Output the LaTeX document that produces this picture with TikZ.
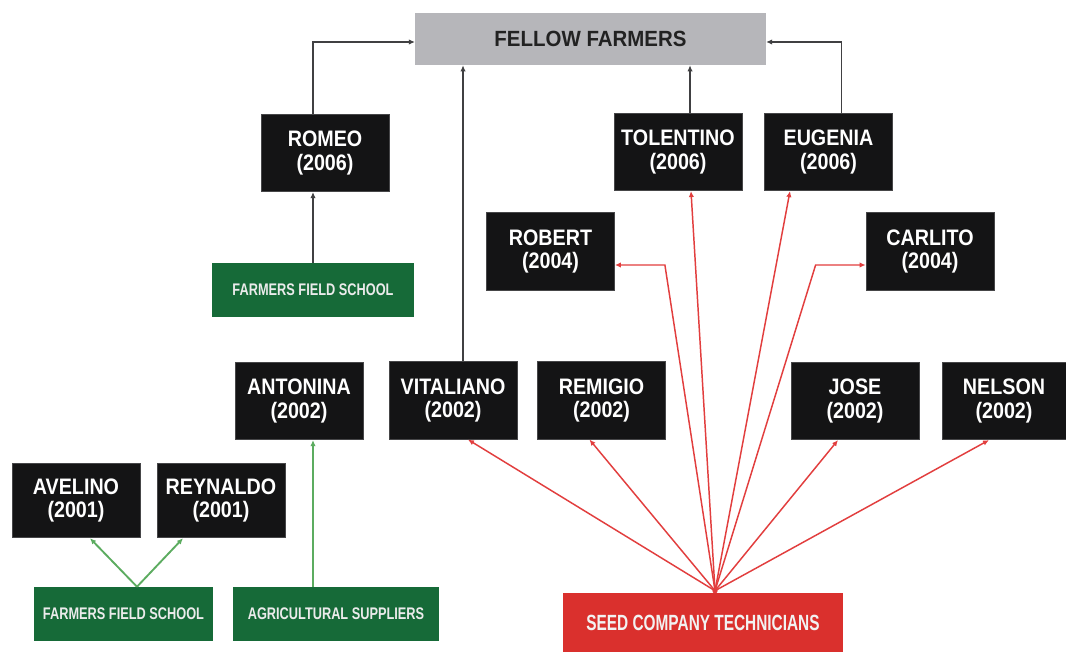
\documentclass[tikz,border=0pt]{standalone}
\usepackage{fontspec}
\usetikzlibrary{arrows.meta,calc}
\newfontfamily\namefont{Liberation Sans}[FakeStretch=0.88]
\newfontfamily\headfont{Liberation Sans}[FakeStretch=0.93]
\newfontfamily\srcfont{Liberation Sans}[FakeStretch=0.76]
\newfontfamily\seedfont{Liberation Sans}[FakeStretch=0.70]
\definecolor{boxblack}{RGB}{20,20,21}
\definecolor{boxedge}{RGB}{70,70,72}
\definecolor{headgrey}{RGB}{182,182,186}
\definecolor{headtext}{RGB}{34,34,34}
\definecolor{srcgreen}{RGB}{22,106,56}
\definecolor{srcred}{RGB}{218,48,45}
\definecolor{redline}{RGB}{226,62,62}
\definecolor{greenline}{RGB}{92,172,96}
\definecolor{darkline}{RGB}{64,64,66}
\begin{document}
\begin{tikzpicture}[x=0.75pt,y=-0.75pt,
  person/.style={fill=boxblack, draw=boxedge, line width=0.6pt, text=white,
    align=center, inner sep=0pt, minimum width=96pt, minimum height=58pt,
    font={\namefont\bfseries\fontsize{16.8}{17.5}\selectfont}},
  headbox/.style={fill=headgrey, draw=none, text=headtext, inner sep=0pt,
    minimum width=263pt, minimum height=39pt,
    font={\headfont\bfseries\fontsize{16.5}{18}\selectfont}},
  greenbox/.style={fill=srcgreen, draw=none, text=white!92!black, inner sep=0pt,
    minimum height=40.5pt, font={\srcfont\bfseries\fontsize{12.6}{14}\selectfont}},
  redbox/.style={fill=srcred, draw=none, text=white!95!black, inner sep=0pt,
    minimum width=210pt, minimum height=45pt,
    font={\seedfont\bfseries\fontsize{16.5}{18}\selectfont}},
  tip/.style={-{Latex[length=4.5pt,width=4pt]}},
  blkarrow/.style={tip, draw=darkline, line width=1.3pt},
  grnarrow/.style={tip, draw=greenline, line width=1.4pt},
  redarrow/.style={tip, draw=redline, line width=1.1pt}]
\fill[white] (0,0) rectangle (1066,652);
\useasboundingbox (0,0) rectangle (1066,652);

% top target
\node[headbox] (fellow) at (590.5,39) {FELLOW FARMERS};

% farmers
\node[person] (romeo)     at (325,153)   {ROMEO\\(2006)};
\node[person] (tolentino) at (678,152)   {TOLENTINO\\(2006)};
\node[person] (eugenia)   at (828.5,152) {EUGENIA\\(2006)};
\node[person] (robert)    at (550.5,251.5) {ROBERT\\(2004)};
\node[person] (carlito)   at (930,251.5) {CARLITO\\(2004)};
\node[person] (antonina)  at (299,401)   {ANTONINA\\(2002)};
\node[person] (vitaliano) at (453,400.5) {VITALIANO\\(2002)};
\node[person] (remigio)   at (601.5,400.5) {REMIGIO\\(2002)};
\node[person] (jose)      at (855,401)   {JOSE\\(2002)};
\node[person, minimum width=93pt] (nelson) at (1004,401) {NELSON\\(2002)};
\node[person, minimum height=56pt] (avelino)  at (76,500.5)  {AVELINO\\(2001)};
\node[person, minimum height=56pt] (reynaldo) at (221,500.5) {REYNALDO\\(2001)};

% information sources
\node[greenbox, minimum width=151.5pt] (ffstop) at (313,290) {FARMERS FIELD SCHOOL};
\node[greenbox, minimum width=134pt] (ffsbot) at (123.5,614) {FARMERS FIELD SCHOOL};
\node[greenbox, minimum width=154.5pt] (agri) at (336,614) {AGRICULTURAL SUPPLIERS};
\node[redbox] (seed) at (703,623) {SEED COMPANY TECHNICIANS};

% farmer-to-farmer links
\draw[blkarrow] (ffstop.north) -- (ffstop.north |- romeo.south);
\draw[blkarrow] (ffstop.north |- romeo.north) |- ($(fellow.west)+(0,3)$);
\draw[blkarrow] ($(vitaliano.north)+(10,0)$) coordinate (v) -- (v |- fellow.south);
\draw[blkarrow] ($(tolentino.north)+(12,0)$) coordinate (t) -- (t |- fellow.south);
\draw[blkarrow] ($(eugenia.north)+(13,0)$) |- ($(fellow.east)+(0,3)$);

% green sources
\coordinate (ghub) at ($(ffsbot.north)+(13.5,0)$);
\draw[grnarrow] (ghub) -- ($(avelino.south)+(14,0)$);
\draw[grnarrow] (ghub) -- ($(reynaldo.south)+(-38,0)$);
\draw[grnarrow] ($(agri.north)+(-23,0)$) -- ($(antonina.south)+(14,0)$);

% seed company links
\coordinate (rhub) at ($(seed.north)+(12,-2)$);
\draw[redarrow] (rhub) -- ($(vitaliano.south)+(15,0)$);
\draw[redarrow] (rhub) -- ($(remigio.south)+(-12,0)$);
\draw[redarrow] (rhub) -- ($(robert.east)+(50,13.5)$) -- ($(robert.east)+(0,13.5)$);
\draw[redarrow] (rhub) -- ($(tolentino.south)+(13,0)$);
\draw[redarrow] (rhub) -- ($(eugenia.south)+(-38.5,0)$);
\draw[redarrow] (rhub) -- ($(carlito.west)+(-50,13.5)$) -- ($(carlito.west)+(0,13.5)$);
\draw[redarrow] (rhub) -- ($(jose.south)+(-17,0)$);
\draw[redarrow] (rhub) -- ($(nelson.south)+(-15,0)$);
\fill[redline] (rhub) circle (2pt);
\end{tikzpicture}
\end{document}
